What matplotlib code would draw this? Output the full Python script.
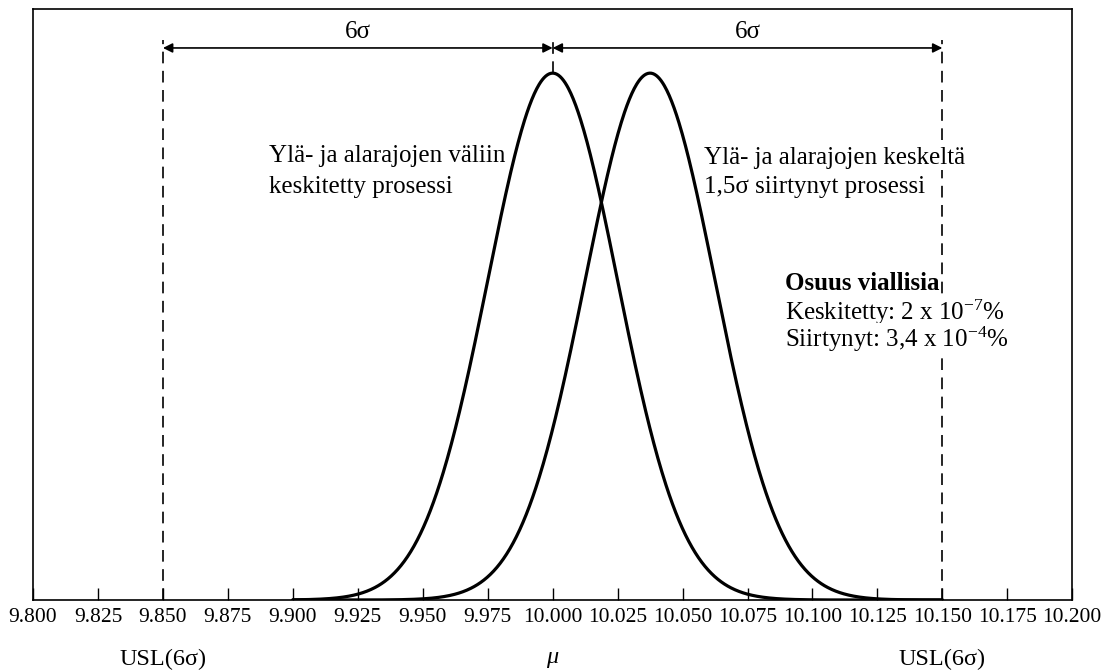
import numpy as np
import matplotlib
matplotlib.use("Agg")
import matplotlib.pyplot as plt

# ---- data ----
mu_centered = 10.000
mu_shifted = 10.0375
sigma = 0.025
lsl, usl = 9.850, 10.150
curve_range = (9.900, 10.150)
tick_values = [9.800, 9.825, 9.850, 9.875, 9.900, 9.925, 9.950, 9.975, 10.000,
               10.025, 10.050, 10.075, 10.100, 10.125, 10.150, 10.175, 10.200]
tick_labels = ["9.800", "9.825", "9.850", "9.875", "9.900", "9.925", "9.950", "9.975",
               "10.000", "10.025", "10.050", "10.075", "10.100", "10.125", "10.150",
               "10.175", "10.200"]
label_centered = ["Ylä- ja alarajojen väliin", "keskitetty prosessi"]
label_shifted = ["Ylä- ja alarajojen keskeltä", "1,5σ siirtynyt prosessi"]
defect_title = "Osuus viallisia"
defect_lines = [r"Keskitetty: 2 x 10$^{\mathregular{-7}}$%",
                r"Siirtynyt: 3,4 x 10$^{\mathregular{-4}}$%"]

plt.rcParams['font.family'] = ['Liberation Serif', 'DejaVu Serif']
plt.rcParams['mathtext.fontset'] = 'custom'
plt.rcParams['mathtext.rm'] = 'Liberation Serif'
plt.rcParams['mathtext.it'] = 'Liberation Serif:italic'

fig = plt.figure(figsize=(11.02, 6.71), dpi=100)
ax = fig.add_axes([0.030, 1 - 600 / 671, 0.943, 591 / 671])

x = np.linspace(curve_range[0], curve_range[1], 800)
def pdf(x, m, s):
    return np.exp(-0.5 * ((x - m) / s) ** 2) / (s * np.sqrt(2 * np.pi))

ax.plot(x, pdf(x, mu_centered, sigma), color='black', lw=2.3, solid_capstyle='round', zorder=2)
ax.plot(x, pdf(x, mu_shifted, sigma), color='black', lw=2.3, solid_capstyle='round', zorder=2)

ymax = 17.9
peak = pdf(mu_centered, mu_centered, sigma)
ax.set_xlim(9.800, 10.200)
ax.set_ylim(0, ymax)

top_line = 16.95
arrow_y = 16.72
dash = (0, (7, 4.5))
for xv in (lsl, usl):
    ax.plot([xv, xv], [0, top_line], color='black', lw=1.2, ls=dash, zorder=1)
ax.plot([mu_centered, mu_centered], [peak, top_line], color='black', lw=1.2, ls=dash, zorder=1)

for a, b in ((lsl, mu_centered), (mu_centered, usl)):
    ax.annotate('', xy=(a, arrow_y), xytext=(b, arrow_y),
                arrowprops=dict(arrowstyle='<|-|>', color='black', lw=1.2,
                                mutation_scale=14, shrinkA=0, shrinkB=0))
    ax.text((a + b) / 2, 17.02, '6σ', ha='center', va='baseline', fontsize=18)

fs = 18
box = dict(facecolor='white', edgecolor='none', pad=1.0)
for i, line in enumerate(label_centered):
    ax.text(9.8909, [13.27, 12.33][i], line, ha='left', va='baseline', fontsize=fs, zorder=3)
for i, line in enumerate(label_shifted):
    ax.text(10.0583, [13.21, 12.33][i], line, ha='left', va='baseline', fontsize=fs,
            bbox=box, zorder=3)

ax.text(10.0895, 9.39, defect_title, ha='left', va='baseline', fontsize=fs,
        fontweight='bold', bbox=box, zorder=3)
for i, line in enumerate(defect_lines):
    ax.text(10.0895, [8.48, 7.66][i], line, ha='left', va='baseline', fontsize=fs,
            bbox=box, zorder=3)

ax.set_xticks(tick_values)
ax.set_xticklabels(tick_labels, fontsize=15.5)
ax.tick_params(axis='x', direction='in', length=9, width=1.0, pad=6)
ax.set_yticks([])
for s in ax.spines.values():
    s.set_linewidth(1.2)

trans = ax.get_xaxis_transform()
for xv, t in ((lsl, 'USL(6σ)'), (usl, 'USL(6σ)'), (mu_centered, r'$\mu$')):
    ax.text(xv, -0.10, t, transform=trans, ha='center', va='center', fontsize=17.5)

fig.savefig('out.png', dpi=100)
